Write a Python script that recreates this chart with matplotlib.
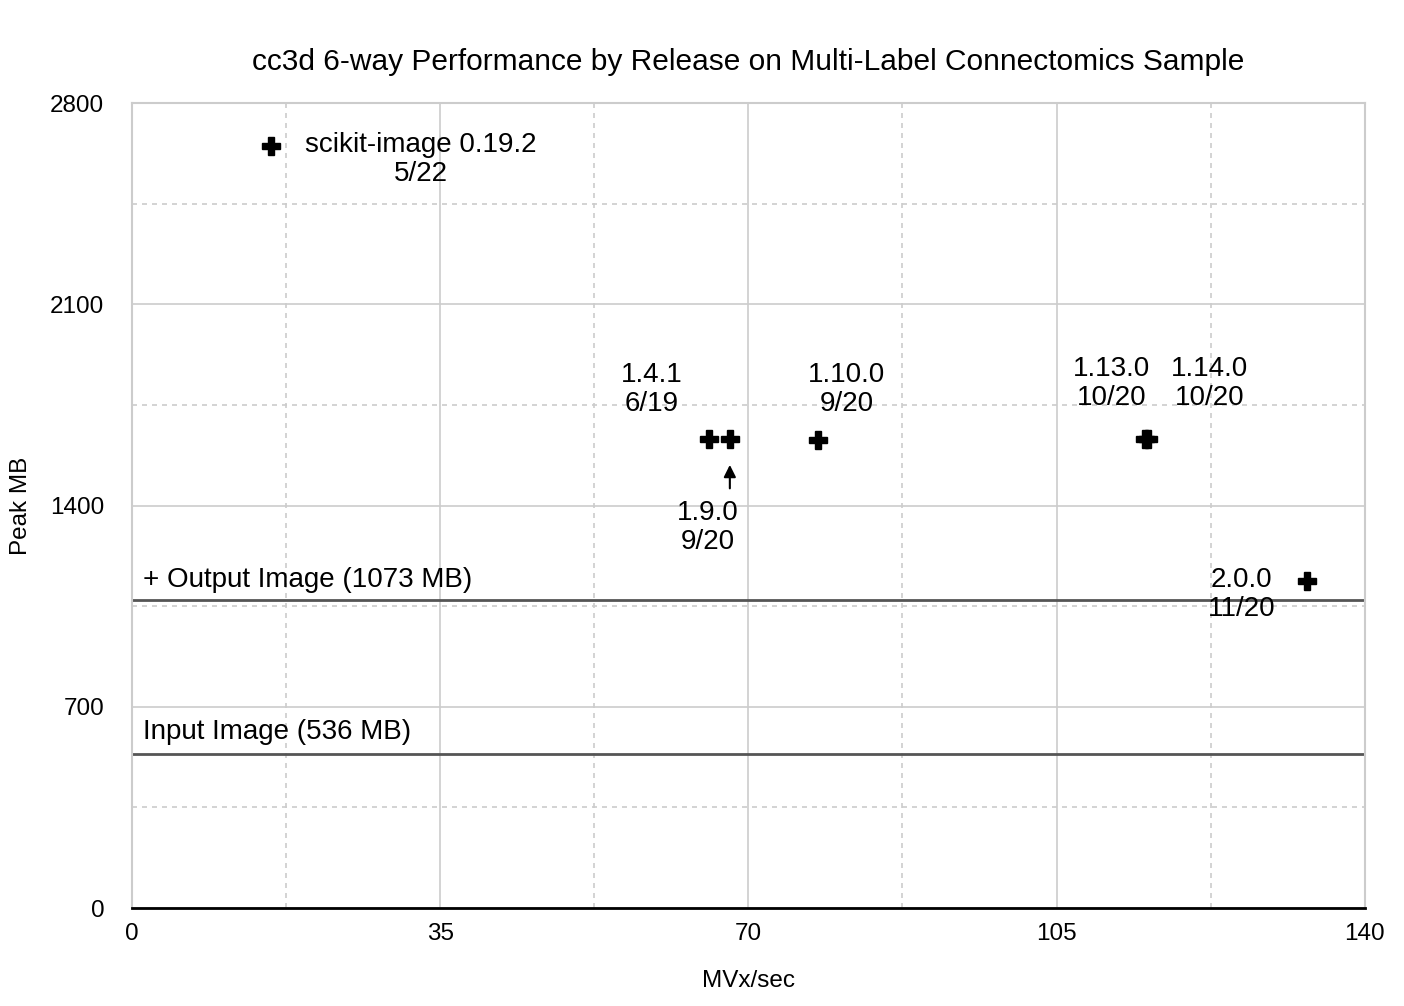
import matplotlib.pyplot as plt
from matplotlib.ticker import MultipleLocator

plt.rcParams['font.family'] = ['Liberation Sans', 'DejaVu Sans']

# release data (MVx/sec, peak MB)
releases = ["scikit-image 0.19.2\n5/22", "1.4.1\n6/19", "1.9.0\n9/20", "1.10.0\n9/20",
            "1.13.0\n10/20", "1.14.0\n10/20", "2.0.0\n11/20"]
speed = [15.8, 65.5, 67.9, 77.9, 115.0, 115.4, 133.4]
peak_mb = [2650, 1631, 1631, 1628, 1631, 1631, 1137]

# label positions for each release
label_x = [32.8, 59.0, 65.4, 81.2, 111.3, 122.4, 126.0]
label_y = [2602, 1802, 1322, 1802, 1823, 1823, 1089]

output_mb = 1073
input_mb = 536

fig = plt.figure(figsize=(14.04, 10.06), dpi=100)
ax = fig.add_axes([0.094, 0.0974, 0.878, 0.8002])

ax.set_xlim(0, 140)
ax.set_ylim(0, 2800)
ax.xaxis.set_major_locator(MultipleLocator(35))
ax.xaxis.set_minor_locator(MultipleLocator(17.5))
ax.yaxis.set_major_locator(MultipleLocator(700))
ax.yaxis.set_minor_locator(MultipleLocator(350))
ax.grid(which='major', color='#cccccc', linewidth=1.2)
ax.grid(which='minor', color='#cccccc', linewidth=1.2, linestyle=(0, (3, 3)))
ax.set_axisbelow(True)
ax.tick_params(which='both', length=0, labelsize=17.5)
ax.tick_params(axis='x', pad=11)
ax.tick_params(axis='y', pad=20)

for s in ['left', 'top', 'right']:
    ax.spines[s].set_color('#cccccc')
    ax.spines[s].set_linewidth(1.5)
ax.spines['bottom'].set_color('black')
ax.spines['bottom'].set_linewidth(2)

ax.axhline(output_mb, color='#555555', linewidth=2)
ax.axhline(input_mb, color='#555555', linewidth=2)
ax.text(1.25, output_mb + 68, "+ Output Image (1073 MB)", fontsize=20, va='center', ha='left')
ax.text(1.25, input_mb + 76, "Input Image (536 MB)", fontsize=20, va='center', ha='left')

ax.plot(speed, peak_mb, 'P', color='black', markersize=13, linestyle='none')

for name, lx, ly in zip(releases, label_x, label_y):
    ax.text(lx, ly, name, fontsize=20, ha='center', va='center', linespacing=1.15)

ax.annotate("", xy=(speed[2], 1551), xytext=(speed[2], 1450),
            arrowprops=dict(arrowstyle='-|>', color='black', lw=1.5, mutation_scale=18))

ax.set_title("cc3d 6-way Performance by Release on Multi-Label Connectomics Sample",
             fontsize=21.5, pad=24)
ax.set_xlabel("MVx/sec", fontsize=17.5, labelpad=18)
ax.set_ylabel("Peak MB", fontsize=17.5)
ax.yaxis.set_label_coords(-0.0815, 0.5)

plt.savefig("out.png", dpi=100)
